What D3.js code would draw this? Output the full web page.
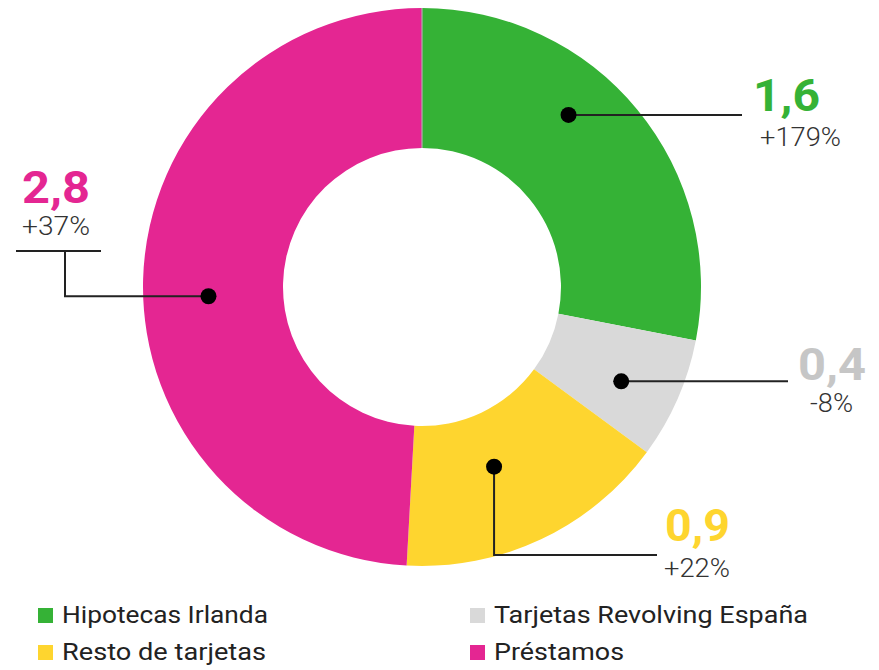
<!DOCTYPE html>
<html>
<head>
<meta charset="utf-8">
<script src="https://cdn.jsdelivr.net/npm/d3@7"></script>
<style>
  html, body { margin: 0; padding: 0; background: #fff; }
  svg { display: block; font-family: Roboto, "Noto Sans", sans-serif; }
</style>
</head>
<body>
<script>
// chart data
const categories = ['Hipotecas Irlanda', 'Tarjetas Revolving España', 'Resto de tarjetas', 'Préstamos'];
const values = [1.6, 0.4, 0.9, 2.8];
const changes = ['+179%', '-8%', '+22%', '+37%'];
const colors = ['#35b236', '#d9d9d9', '#fed52f', '#e42692'];
const valueColors = ['#35b236', '#c6c6c6', '#fed52f', '#e42692'];

const width = 879;
const height = 670;
const cx = 422, cy = 287;
const outerR = 279, innerR = 139;

// where the callout dot sits inside each slice (fraction of slice angle, fraction of radius)
const dotPlace = [[0.40, 0.81], [0.565, 0.79], [0.56, 0.694], [0.477, 0.766]];

const fmt = v => d3.format('.1f')(v).replace('.', ',');

const svg = d3.select('body').append('svg')
  .attr('width', width)
  .attr('height', height);

const pie = d3.pie().sort(null).value(d => d.value);
const arcs = pie(values.map((v, i) => ({ value: v, i })));
const arc = d3.arc().innerRadius(innerR).outerRadius(outerR);

const g = svg.append('g').attr('transform', `translate(${cx},${cy})`);

g.selectAll('path.slice')
  .data(arcs)
  .enter()
  .append('path')
  .attr('class', 'slice')
  .attr('d', arc)
  .attr('fill', d => colors[d.index]);

// thin seam where the ring starts
g.append('line')
  .attr('x1', 0).attr('x2', 0)
  .attr('y1', -innerR).attr('y2', -outerR)
  .attr('stroke', '#b7a6b0')
  .attr('stroke-width', 1.2);

const dots = arcs.map((a, i) => {
  const ang = a.startAngle + (a.endAngle - a.startAngle) * dotPlace[i][0];
  const r = outerR * dotPlace[i][1];
  return [cx + r * Math.sin(ang), cy - r * Math.cos(ang)];
});

// leader lines (elbows go to the label blocks)
const leaders = [
  [dots[0], [742, dots[0][1]]],
  [dots[1], [788, dots[1][1]]],
  [dots[2], [dots[2][0], 555], [657, 555]],
  [dots[3], [65, dots[3][1]], [65, 251]],
];
const line = d3.line();
svg.selectAll('path.leader')
  .data(leaders)
  .enter()
  .append('path')
  .attr('class', 'leader')
  .attr('d', line)
  .attr('fill', 'none')
  .attr('stroke', '#222')
  .attr('stroke-width', 2);

svg.append('line')
  .attr('x1', 16).attr('x2', 101)
  .attr('y1', 251).attr('y2', 251)
  .attr('stroke', '#222')
  .attr('stroke-width', 2);

svg.selectAll('circle.dot')
  .data(dots)
  .enter()
  .append('circle')
  .attr('class', 'dot')
  .attr('cx', d => d[0])
  .attr('cy', d => d[1])
  .attr('r', 8)
  .attr('fill', '#000');

// label blocks: [value x, value baseline, value width, change x, change baseline, change width]
const labelPos = [
  [753, 111, 67, 760, 146, 81],
  [798, 380, 68, 810, 412, 43],
  [665, 541, 65, 664, 577, 66],
  [22, 203, 68, 22, 235, 68],
];

values.forEach((v, i) => {
  const p = labelPos[i];
  svg.append('text')
    .attr('x', p[0]).attr('y', p[1])
    .attr('fill', valueColors[i])
    .attr('font-size', 45)
    .attr('font-weight', 700)
    .attr('textLength', p[2])
    .attr('lengthAdjust', 'spacingAndGlyphs')
    .text(fmt(v));
  svg.append('text')
    .attr('x', p[3]).attr('y', p[4])
    .attr('fill', '#333')
    .attr('font-size', 25)
    .attr('font-weight', 300)
    .attr('textLength', p[5])
    .attr('lengthAdjust', 'spacingAndGlyphs')
    .text(changes[i]);
});

// legend
const legendPos = [[38, 608], [470, 608], [38, 645], [470, 645]];
const legendWidths = [206, 314, 204, 130];
const leg = svg.selectAll('g.legend')
  .data(categories)
  .enter()
  .append('g')
  .attr('class', 'legend')
  .attr('transform', (d, i) => `translate(${legendPos[i][0]},${legendPos[i][1]})`);

leg.append('rect')
  .attr('width', 15).attr('height', 15)
  .attr('fill', (d, i) => colors[i]);

leg.append('text')
  .attr('x', 24).attr('y', 15)
  .attr('font-size', 24)
  .attr('fill', '#222')
  .attr('textLength', (d, i) => legendWidths[i])
  .attr('lengthAdjust', 'spacingAndGlyphs')
  .text(d => d);
</script>
</body>
</html>
